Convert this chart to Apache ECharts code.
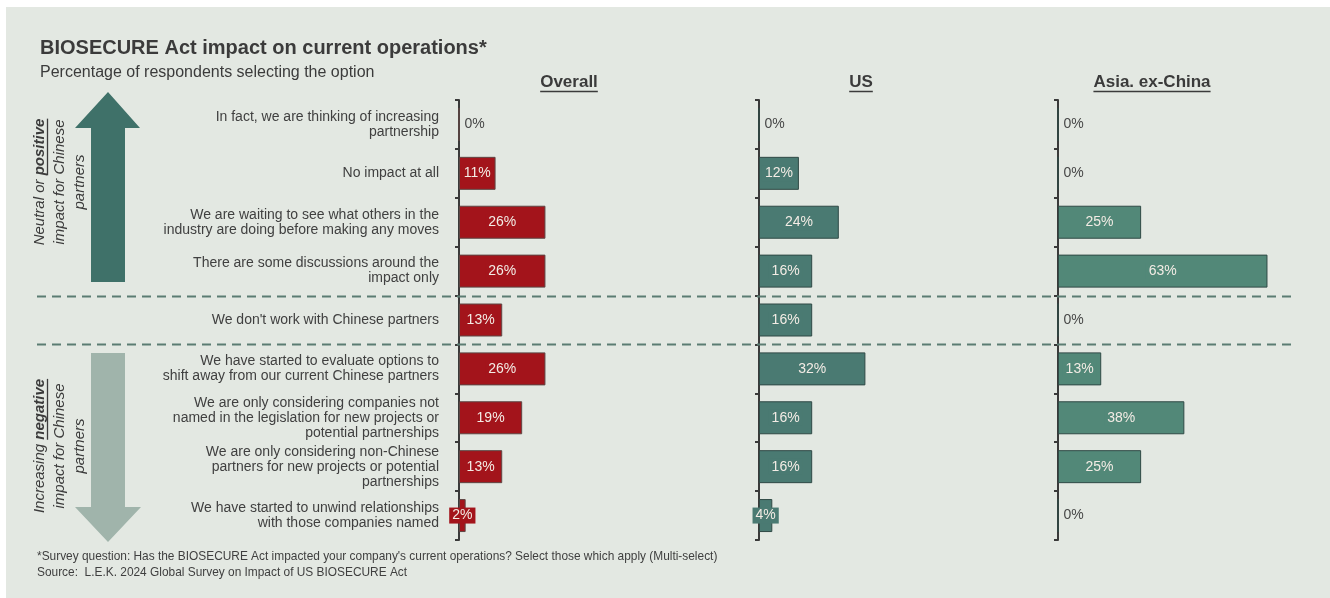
<!DOCTYPE html>
<html>
<head>
<meta charset="utf-8">
<script src="https://cdn.jsdelivr.net/npm/echarts@6/dist/echarts.min.js"></script>
<style>
  html, body { margin: 0; padding: 0; background: #ffffff; }
  #chart { width: 1330px; height: 598px; }
</style>
</head>
<body>
<div id="chart"></div>
<script>
// Survey answer options, top (neutral / positive) to bottom (negative)
const categories = [
  'In fact, we are thinking of increasing\npartnership',
  'No impact at all',
  'We are waiting to see what others in the\nindustry are doing before making any moves',
  'There are some discussions around the\nimpact only',
  "We don't work with Chinese partners",
  'We have started to evaluate options to\nshift away from our current Chinese partners',
  'We are only considering companies not\nnamed in the legislation for new projects or\npotential partnerships',
  'We are only considering non-Chinese\npartners for new projects or potential\npartnerships',
  'We have started to unwind relationships\nwith those companies named'
];

// Share of respondents (%) per region
const overallValues = [0, 11, 26, 26, 13, 26, 19, 13, 2];
const usValues      = [0, 12, 24, 16, 16, 32, 16, 16, 4];
const asiaValues    = [0, 0, 25, 63, 0, 13, 38, 25, 0];

const panelNames = ['Overall', 'US', 'Asia. ex-China'];
const panelValues = [overallValues, usValues, asiaValues];

const titleText = 'BIOSECURE Act impact on current operations*';
const subtitleText = 'Percentage of respondents selecting the option';
const footnoteText = "*Survey question: Has the BIOSECURE Act impacted your company's current operations? Select those which apply (Multi-select)";
const sourceText = 'Source:  L.E.K. 2024 Global Survey on Impact of US BIOSECURE Act';

// Layout and styling
const FONT = '"Liberation Sans", Arial, Helvetica, sans-serif';
const TEXT = '#3b3b3b';
const BG = '#e3e8e2';
const panelLayout = [
  { left: 459, headerX: 569, fill: '#a3141b', border: '#5e4644' },
  { left: 759, headerX: 861, fill: '#4a7a72', border: '#2f4945' },
  { left: 1058, headerX: 1152, fill: '#528878', border: '#2f4945' }
];
const GRID_TOP = 100, GRID_H = 440, GRID_W = 266, X_MAX = 80;

const chart = echarts.init(document.getElementById('chart'), null, { renderer: 'canvas' });

const measureCtx = document.createElement('canvas').getContext('2d');
function textWidth(style, size, weight, s) {
  measureCtx.font = style + ' ' + weight + ' ' + size + 'px ' + FONT;
  return measureCtx.measureText(s).width;
}

function barItems(values, lay) {
  return values.map(v => ({
    value: v,
    label: v === 0
      ? { show: true, position: 'right', distance: 5, color: '#474747', fontSize: 14, fontFamily: FONT, formatter: '{c}%' }
      : { show: true, position: 'inside', color: '#f3ece5', fontSize: 14, fontFamily: FONT, formatter: '{c}%',
          backgroundColor: lay.fill, padding: [1, 3] }
  }));
}

const option = {
  animation: false,
  backgroundColor: '#ffffff',
  textStyle: { fontFamily: FONT },
  grid: panelLayout.map(l => ({
    left: l.left, top: GRID_TOP, width: GRID_W, height: GRID_H,
    outerBoundsMode: 'none', containLabel: false
  })),
  xAxis: panelLayout.map((l, i) => ({
    type: 'value', gridIndex: i, min: 0, max: X_MAX, show: false
  })),
  yAxis: panelLayout.map((l, i) => ({
    type: 'category', gridIndex: i, data: categories, inverse: true,
    axisLine: { show: true, lineStyle: { color: '#3a3a3a', width: 2 } },
    axisTick: { show: true, length: 4, lineStyle: { color: '#3a3a3a', width: 2 } },
    splitLine: { show: false },
    axisLabel: i === 0
      ? { show: true, margin: 20, color: '#404040', fontSize: 14, lineHeight: 15, align: 'right', fontFamily: FONT }
      : { show: false }
  })),
  series: panelLayout.map((l, i) => ({
    type: 'bar',
    name: panelNames[i],
    xAxisIndex: i, yAxisIndex: i,
    barWidth: 33,
    itemStyle: { color: l.fill, borderColor: l.border, borderWidth: 1 },
    emphasis: { disabled: true },
    data: barItems(panelValues[i], l)
  }))
};

chart.setOption(option);

// Decorations: panel, headings, separators, arrows, notes
const g = [];
g.push({ type: 'rect', z: -10, silent: true, shape: { x: 6, y: 7, width: 1324, height: 591 }, style: { fill: BG } });

g.push({ type: 'text', x: 40, y: 48, style: { text: titleText, fontSize: 20, fontWeight: 'bold', fontFamily: FONT, fill: TEXT, verticalAlign: 'middle' } });
g.push({ type: 'text', x: 40, y: 73, style: { text: subtitleText, fontSize: 16, fontFamily: FONT, fill: TEXT, verticalAlign: 'middle' } });

panelLayout.forEach((l, i) => {
  const w = textWidth('normal', 17, 'bold', panelNames[i]);
  g.push({ type: 'text', x: l.headerX, y: 82, style: { text: panelNames[i], fontSize: 17, fontWeight: 'bold', fontFamily: FONT, fill: TEXT, align: 'center', verticalAlign: 'middle' } });
  g.push({ type: 'line', shape: { x1: l.headerX - w / 2, y1: 91.5, x2: l.headerX + w / 2, y2: 91.5 }, style: { stroke: TEXT, lineWidth: 1.5 } });
});

// Dashed separators between answer groups, at category boundaries
[[3, 4], [4, 5]].forEach(([a, b]) => {
  const ya = chart.convertToPixel({ yAxisIndex: 0 }, categories[a]);
  const yb = chart.convertToPixel({ yAxisIndex: 0 }, categories[b]);
  const y = Math.round((ya + yb) / 2) + 0.5;
  g.push({ type: 'line', z: 5, shape: { x1: 37, y1: y, x2: 1295, y2: y }, style: { stroke: '#5b7c72', lineWidth: 2, lineDash: [9, 6] } });
});

// Direction arrows
g.push({ type: 'polygon', shape: { points: [[108, 92], [140, 128], [125, 128], [125, 282], [91, 282], [91, 128], [75, 128]] }, style: { fill: '#3f7169' } });
g.push({ type: 'polygon', shape: { points: [[91, 353], [125, 353], [125, 507], [141, 507], [108, 542], [75, 507], [91, 507]] }, style: { fill: '#a0b4ab' } });

// Rotated side captions with a bold underlined keyword
function sideCaption(cx, cy, lead, key) {
  const size = 15;
  const wLead = textWidth('italic', size, 'normal', lead);
  const wKey = textWidth('italic', size, 'bold', key);
  const start = -(wLead + wKey) / 2;
  const base = { fontSize: size, fontStyle: 'italic', fontFamily: FONT, fill: TEXT, verticalAlign: 'middle' };
  return {
    type: 'group', x: cx, y: cy, rotation: Math.PI / 2,
    children: [
      { type: 'text', x: start, y: -20, style: Object.assign({ text: lead, align: 'left' }, base) },
      { type: 'text', x: start + wLead, y: -20, style: Object.assign({ text: key, align: 'left', fontWeight: 'bold' }, base) },
      { type: 'line', shape: { x1: start + wLead, y1: -12.5, x2: start + wLead + wKey, y2: -12.5 }, style: { stroke: TEXT, lineWidth: 1.3 } },
      { type: 'text', x: 0, y: 0, style: Object.assign({ text: 'impact for Chinese', align: 'center' }, base) },
      { type: 'text', x: 0, y: 20, style: Object.assign({ text: 'partners', align: 'center' }, base) }
    ]
  };
}
g.push(sideCaption(60, 182, 'Neutral or ', 'positive'));
g.push(sideCaption(60, 446, 'Increasing ', 'negative'));

g.push({ type: 'text', x: 37, y: 557, style: { text: footnoteText, fontSize: 11.9, fontFamily: FONT, fill: '#3f3f3f', verticalAlign: 'middle' } });
g.push({ type: 'text', x: 37, y: 573, style: { text: sourceText, fontSize: 11.9, fontFamily: FONT, fill: '#3f3f3f', verticalAlign: 'middle' } });

chart.setOption({ graphic: { elements: g } });
</script>
</body>
</html>
